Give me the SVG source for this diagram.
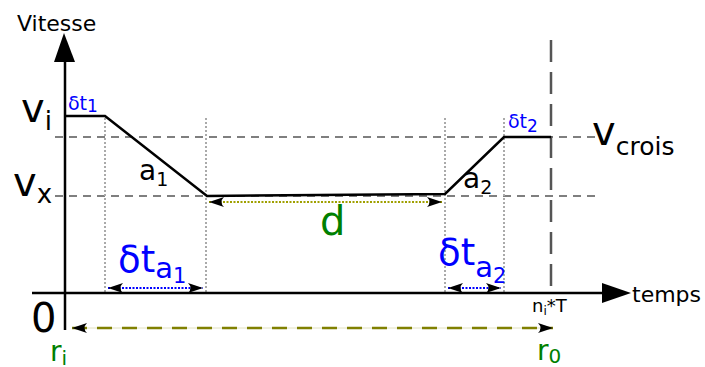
<svg xmlns="http://www.w3.org/2000/svg" width="705" height="367" viewBox="0 0 705 367">
<defs>
<style>
text{font-family:"DejaVu Sans","Liberation Sans",sans-serif;fill:#000}
.blue{fill:#0000ff}
.green{fill:#008000}
.ax{stroke:#000;stroke-width:2.5;fill:none}
.curve{stroke:#000;stroke-width:2.5;fill:none;stroke-linejoin:miter}
.hd{stroke:#555;stroke-width:1.5;stroke-dasharray:8,6;fill:none}
.vd{stroke:#aaa;stroke-width:2;stroke-dasharray:2,2;fill:none}
.bd{stroke:#0000ff;stroke-width:2;stroke-dasharray:2,1.5;fill:none}
.od{stroke:#a0a000;stroke-width:2;stroke-dasharray:2,1.5;fill:none}
</style>
<marker id="ah" viewBox="-16 -6 17 12" refX="0" refY="0" markerWidth="17" markerHeight="12" markerUnits="userSpaceOnUse" orient="auto-start-reverse">
<path d="M0,0 L-15,-5 Q-10,0 -15,5 Z" fill="#000"/>
</marker>
</defs>

<g id="grid">
<line class="hd" x1="55" y1="137" x2="596" y2="137"/>
<line class="hd" x1="55" y1="196" x2="596" y2="196"/>
<line class="vd" x1="105" y1="118" x2="105" y2="293"/>
<line class="vd" x1="206" y1="118" x2="206" y2="293"/>
<line class="vd" x1="445" y1="118" x2="445" y2="293"/>
<line class="vd" x1="504" y1="118" x2="504" y2="293"/>
<line x1="551" y1="40" x2="551" y2="293" stroke="#555" stroke-width="2.5" stroke-dasharray="22,10"/>
</g>

<g id="axes">
<line class="ax" x1="65" y1="330" x2="65" y2="60"/>
<path d="M64,33 L75,62 L54,62 Z" fill="#000"/>
<line class="ax" x1="32" y1="293" x2="605" y2="293"/>
<path d="M631,293 L602,283 L602,303 Z" fill="#000"/>
<text x="17" y="31" font-size="22">Vitesse</text>
<text x="632" y="302" font-size="22">temps</text>
<text x="31" y="332" font-size="40">0</text>
<text x="532" y="312" font-size="18">n<tspan font-size="12" dy="3">i</tspan><tspan dy="-3">*T</tspan></text>
</g>

<g id="profile">
<polyline class="curve" points="65,116 105,116 207,196 445,194 504,137 551,137"/>
</g>

<g id="labels">
<text x="21" y="122" font-size="40">v<tspan font-size="26" dy="8">i</tspan></text>
<text x="13" y="196" font-size="40">v<tspan font-size="26" dy="7">x</tspan></text>
<text x="592" y="145" font-size="40">v<tspan font-size="25" dy="10">crois</tspan></text>
<text x="68" y="110" font-size="19" class="blue">δt<tspan font-size="17" dy="2" class="blue">1</tspan></text>
<text x="508" y="128" font-size="19" class="blue">δt<tspan font-size="17" dy="4" class="blue">2</tspan></text>
<text x="139" y="180" font-size="28">a<tspan font-size="19" dy="6">1</tspan></text>
<text x="463" y="188" font-size="28">a<tspan font-size="19" dy="6">2</tspan></text>
<text x="320" y="235" font-size="40" class="green">d</text>
<text x="118" y="272" font-size="37" class="blue">δt<tspan font-size="29" dy="6" class="blue">a</tspan><tspan font-size="21" dy="5" class="blue">1</tspan></text>
<text x="438" y="265" font-size="37" class="blue">δt<tspan font-size="29" dy="12" class="blue">a</tspan><tspan font-size="21" dy="6" class="blue">2</tspan></text>
<text x="50" y="361" font-size="28" class="green">r<tspan font-size="20" dy="4">i</tspan></text>
<text x="537" y="360" font-size="28" class="green">r<tspan font-size="20" dy="3">0</tspan></text>
</g>

<g id="connectors">
<line class="bd" x1="108" y1="288" x2="203" y2="288" marker-start="url(#ah)" marker-end="url(#ah)"/>
<line class="bd" x1="448" y1="288" x2="501" y2="288" marker-start="url(#ah)" marker-end="url(#ah)"/>
<line class="od" x1="209" y1="202" x2="442" y2="202" marker-start="url(#ah)" marker-end="url(#ah)"/>
<line x1="72" y1="328" x2="553" y2="328" stroke="#e0e0c0" stroke-width="1"/>
<line x1="72" y1="328" x2="553" y2="328" stroke="#808000" stroke-width="2.5" stroke-dasharray="15,10" marker-start="url(#ah)" marker-end="url(#ah)"/>
</g>
</svg>
